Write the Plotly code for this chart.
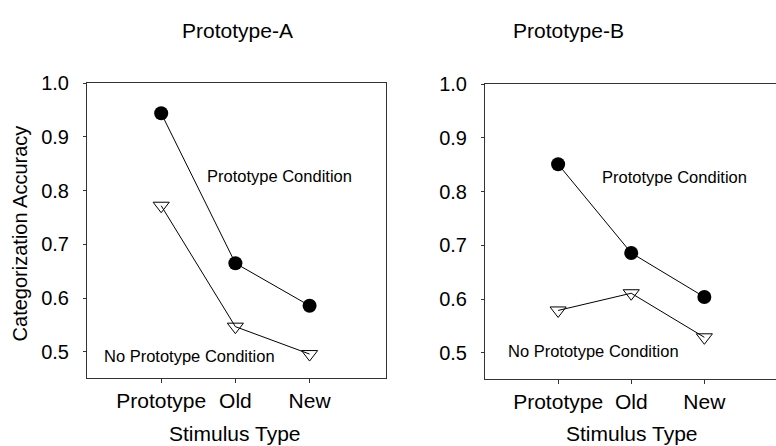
import plotly.graph_objects as go

W, H = 776, 446

stimulus_types = ["Prototype", "Old", "New"]
y_ticks = [0.5, 0.6, 0.7, 0.8, 0.9, 1.0]
y_tick_labels = ["0.5", "0.6", "0.7", "0.8", "0.9", "1.0"]

a_prototype_cond = [0.944, 0.665, 0.586]
a_no_prototype_cond = [0.772, 0.547, 0.496]
b_prototype_cond = [0.851, 0.686, 0.604]
b_no_prototype_cond = [0.579, 0.611, 0.529]

panel_titles = ["Prototype-A", "Prototype-B"]
x_title = "Stimulus Type"
y_title = "Categorization Accuracy"
label_proto = "Prototype Condition"
label_noproto = "No Prototype Condition"

FONT = "Liberation Sans, Arial, sans-serif"


def px(x):
    return x / W


def py(y):
    return 1 - y / H


xpos = [1, 2, 3]

fig = go.Figure()

panels = [
    ("x", "y", a_prototype_cond, a_no_prototype_cond),
    ("x2", "y2", b_prototype_cond, b_no_prototype_cond),
]
for xa, ya, pc, npc in panels:
    fig.add_trace(go.Scatter(
        x=xpos, y=pc, xaxis=xa, yaxis=ya, mode="lines+markers",
        line=dict(color="black", width=1),
        marker=dict(symbol="circle", size=14, color="black"),
        showlegend=False, cliponaxis=False))
    fig.add_trace(go.Scatter(
        x=xpos, y=npc, xaxis=xa, yaxis=ya, mode="lines+markers",
        line=dict(color="black", width=1),
        marker=dict(symbol="triangle-down-open", size=14, color="black",
                    line=dict(width=1)),
        showlegend=False, cliponaxis=False))

common_x = dict(
    tickmode="array", tickvals=xpos, ticktext=stimulus_types,
    ticks="outside", ticklen=4, tickcolor="#333", tickwidth=1,
    showgrid=False, zeroline=False, showline=True, linecolor="#333",
    linewidth=1, tickfont=dict(size=21, color="black", family=FONT),
    ticklabelstandoff=0, fixedrange=True,
)
common_y = dict(
    range=[0.452, 1.0], tickmode="array", tickvals=y_ticks,
    ticktext=y_tick_labels, ticks="outside", ticklen=3, tickcolor="#333",
    showgrid=False, zeroline=False, showline=True, linecolor="#333",
    linewidth=1, tickfont=dict(size=20, color="black", family=FONT),
    ticklabelstandoff=10, fixedrange=True,
)

fig.update_layout(
    width=W, height=H,
    margin=dict(l=0, r=0, t=0, b=0),
    paper_bgcolor="white", plot_bgcolor="white",
    font=dict(family=FONT, color="black"),
    xaxis=dict(domain=[px(87), px(386)], range=[0, 4.03], mirror=True,
               anchor="y", **common_x),
    yaxis=dict(domain=[py(376), py(74)], mirror=True, anchor="x", **common_y),
    xaxis2=dict(domain=[px(485), 1.0], range=[0, 3.98], mirror=True,
                anchor="y2", **common_x),
    yaxis2=dict(domain=[py(377), py(75)], anchor="x2", **common_y),
)

annots = [
    (237, 20, panel_titles[0], 21, "center"),
    (568, 20, panel_titles[1], 21, "center"),
    (235, 433, x_title, 21, "center"),
    (632, 433, x_title, 21, "center"),
    (205, 169, label_proto, 16.5, "left"),
    (600, 170, label_proto, 16.5, "left"),
    (102, 354, label_noproto, 16.5, "left"),
    (506, 349, label_noproto, 16.5, "left"),
]
for x, y, t, s, anc in annots:
    fig.add_annotation(x=px(x), y=py(y), xref="paper", yref="paper",
                       text=t, showarrow=False, xanchor=anc, yanchor="middle",
                       font=dict(size=s, color="black", family=FONT))

fig.add_annotation(x=px(20), y=py(228), xref="paper", yref="paper",
                   text=y_title, showarrow=False, textangle=-90,
                   xanchor="center", yanchor="middle",
                   font=dict(size=20, color="black", family=FONT))

fig.write_html("out.html")
